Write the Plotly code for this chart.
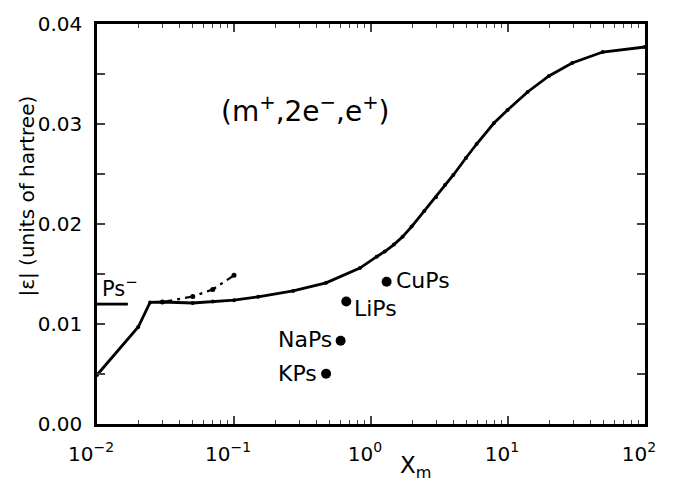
import math
import plotly.graph_objects as go

# Main curve (m+, 2e-, e+)
main_x = [0.01, 0.02, 0.0244, 0.03, 0.05, 0.07, 0.1, 0.15, 0.27, 0.47, 0.83, 1.1, 1.26,
          1.47, 1.70, 1.98, 2.45, 2.98, 3.47, 3.99, 4.93, 5.90, 7.9, 9.93, 13.9, 19.9,
          29.4, 49.1, 100.0]
main_y = [0.0049, 0.0097, 0.01216, 0.0122, 0.0121, 0.01225, 0.01238, 0.01272, 0.01331,
          0.01412, 0.01559, 0.01673, 0.01725, 0.01794, 0.01872, 0.01974, 0.0213, 0.02268,
          0.02389, 0.0249, 0.0266, 0.0280, 0.0301, 0.0314, 0.0332, 0.0348, 0.0361,
          0.0372, 0.0377]

# Dash-dot branch
dd_x = [0.03, 0.05, 0.07, 0.1]
dd_y = [0.0122, 0.01275, 0.01346, 0.01487]

# Ps- level
ps_x = [0.01, 0.0168]
ps_y = [0.01199, 0.01199]

# Positronic atoms
atom_names = ["CuPs", "LiPs", "NaPs", "KPs"]
atom_x = [1.30, 0.66, 0.60, 0.47]
atom_y = [0.01422, 0.01225, 0.00833, 0.00503]

x_tick_vals = [0.01, 0.1, 1, 10, 100]
x_tick_text = ["10<sup>−2</sup>", "10<sup>−1</sup>", "10<sup>0</sup>", "10<sup>1</sup>", "10<sup>2</sup>"]
x_minor_vals = [m * 10 ** e for e in (-2, -1, 0, 1) for m in range(2, 10)]

FONT = "DejaVu Sans"

fig = go.Figure()
fig.add_trace(go.Scatter(x=main_x, y=main_y, mode="lines+markers",
                         line=dict(color="black", width=2.8),
                         marker=dict(color="black", size=4)))
fig.add_trace(go.Scatter(x=dd_x, y=dd_y, mode="lines+markers",
                         line=dict(color="black", width=2.2, dash="10px,5px,3px,5px"),
                         marker=dict(color="black", size=5)))
fig.add_trace(go.Scatter(x=ps_x, y=ps_y, mode="lines",
                         line=dict(color="black", width=2.8)))
fig.add_trace(go.Scatter(x=atom_x, y=atom_y, mode="markers",
                         marker=dict(color="black", size=10)))

anchors = {"CuPs": ("left", 7), "LiPs": ("left", 6), "NaPs": ("right", -7), "KPs": ("right", -7)}
yshift = {"CuPs": 1, "LiPs": -7, "NaPs": 1, "KPs": 0}
for n, x, y in zip(atom_names, atom_x, atom_y):
    a, xs = anchors[n]
    fig.add_annotation(x=math.log10(x), y=y, text=n, showarrow=False,
                       xanchor=a, yanchor="middle", xshift=xs, yshift=yshift[n],
                       font=dict(family=FONT, size=22, color="black"))

def px(xp):
    return (xp - 97) / 548

def py(yp):
    return (424 - yp) / 408

fig.add_annotation(xref="paper", yref="paper", x=px(100), y=py(284), text="Ps<sup>−</sup>",
                   showarrow=False, xanchor="left", yanchor="middle",
                   font=dict(family=FONT, size=21, color="black"))
fig.add_annotation(xref="paper", yref="paper", x=px(305), y=py(103),
                   text="(m<sup>+</sup>,2e<sup>−</sup>,e<sup>+</sup>)", showarrow=False,
                   xanchor="center", yanchor="middle",
                   font=dict(family=FONT, size=28, color="black"))
fig.add_annotation(xref="paper", yref="paper", x=px(398), y=py(468),
                   text="X<sub>m</sub>", showarrow=False, xanchor="left", yanchor="middle",
                   font=dict(family=FONT, size=23, color="black"))
fig.add_annotation(xref="paper", yref="paper", x=px(27), y=py(192),
                   text="|ε| (units of hartree)", showarrow=False, textangle=-90,
                   xanchor="center", yanchor="middle",
                   font=dict(family=FONT, size=20, color="black"))

fig.update_layout(
    width=678, height=482, showlegend=False,
    margin=dict(l=97, r=33, t=16, b=58),
    plot_bgcolor="white", paper_bgcolor="white",
    font=dict(family=FONT, size=20, color="black"),
    xaxis=dict(type="log", range=[-2, 2], tickmode="array", tickvals=x_tick_vals,
               ticktext=x_tick_text, ticks="inside", ticklen=8, tickwidth=1.5,
               showline=True, linewidth=2.5, linecolor="black", mirror="allticks",
               showgrid=False, zeroline=False, ticklabelstandoff=10, ticklabelshift=-6,
               minor=dict(tickmode="array", tickvals=x_minor_vals, ticks="inside",
                          ticklen=4, tickwidth=1.2, showgrid=False),
               tickfont=dict(family=FONT, size=20)),
    yaxis=dict(range=[0, 0.04], dtick=0.01, tickformat=".2f",
               ticks="inside", ticklen=8, tickwidth=1.5, showline=True, linewidth=2.5,
               linecolor="black", mirror="allticks", showgrid=False, zeroline=False,
               ticklabelstandoff=8,
               minor=dict(dtick=0.005, ticks="inside", ticklen=8, tickwidth=1.5, showgrid=False),
               tickfont=dict(family=FONT, size=20)),
)
fig.write_html("out.html")
